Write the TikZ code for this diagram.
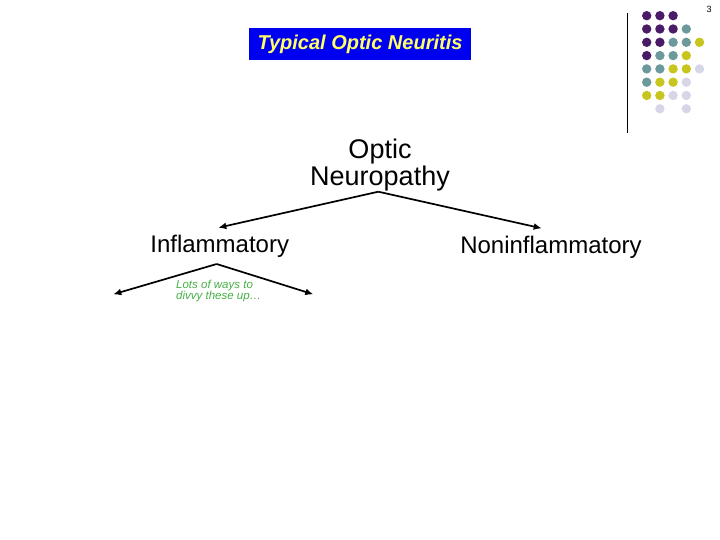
\documentclass[tikz,border=0pt]{standalone}
\usepackage{fontspec}
\setmainfont{Liberation Sans}
\usepackage{tikz}
\usetikzlibrary{arrows.meta,positioning,calc}
\definecolor{TitleBlue}{RGB}{0,0,240}
\definecolor{TitleYellow}{RGB}{255,255,102}
\definecolor{NoteGreen}{RGB}{70,175,70}
\definecolor{DotPurple}{RGB}{74,28,104}
\definecolor{DotTeal}{RGB}{108,153,156}
\definecolor{DotYellow}{RGB}{200,198,30}
\definecolor{DotLilac}{RGB}{214,214,232}

\begin{document}
\begin{tikzpicture}[x=1pt,y=-1pt,>={Latex[length=8pt,width=7pt]},every node/.style={inner sep=0pt}]
\tikzset{branch/.style={font=\fontsize{24}{27}\selectfont},
  split/.style={->,line width=1.7pt},
  dot/.style={circle,minimum size=9.4pt}}
\useasboundingbox (0,0) rectangle (720,540);
% corner decoration
\draw[line width=0.8pt] (627.3,12.7)--(627.3,132.7);
\foreach \row [count=\r from 0] in {{P,P,P},{P,P,P,T},{P,P,T,T,Y},{P,T,T,Y},{T,T,Y,Y,L},{T,Y,Y,L},{Y,Y,L,L},{W,L,W,L}}{
  \foreach \k [count=\c from 0] in \row {
    \if\k W\else
      \if\k P\def\dotcol{DotPurple}\fi
      \if\k T\def\dotcol{DotTeal}\fi
      \if\k Y\def\dotcol{DotYellow}\fi
      \if\k L\def\dotcol{DotLilac}\fi
      \node[dot,fill=\dotcol] (dot-\r-\c) at ({646.7+13.2*\c},{15.7+13.3*\r}) {};
    \fi}}
\node[font=\fontsize{9}{10}\selectfont] (pagenum) at (709,9) {3};
% title and tree
\node[fill=TitleBlue,text=TitleYellow,font=\fontsize{20}{24}\selectfont\bfseries\itshape,minimum width=222pt,minimum height=32pt] (title) at (360,44) {Typical Optic Neuritis};
\node[font=\fontsize{27}{26.7}\selectfont,align=center] (opn) at (380,164.7) {Optic\\Neuropathy};
\node[branch,anchor=base] (infl) at (219.7,252) {Inflammatory};
\node[branch,anchor=base] (noninfl) at (551,254) {Noninflammatory};
\node[font=\fontsize{11.5}{11}\selectfont\itshape,text=NoteGreen,align=left,anchor=north west] (note) at (176,280) {Lots of ways to\\divvy these up\dots};
\coordinate (opn-fork) at (378.3,191.7);
\coordinate (infl-in) at (218.3,227.7);
\coordinate (noninfl-in) at (541.7,228.3);
\coordinate (infl-fork) at (216.7,264);
\coordinate (left-out) at (113.3,294.3);
\coordinate (right-out) at (313.3,294.3);
\draw[split] (opn-fork)--(infl-in);
\draw[split] (opn-fork)--(noninfl-in);
\draw[split] (infl-fork)--(left-out);
\draw[split] (infl-fork)--(right-out);
\end{tikzpicture}
\end{document}
